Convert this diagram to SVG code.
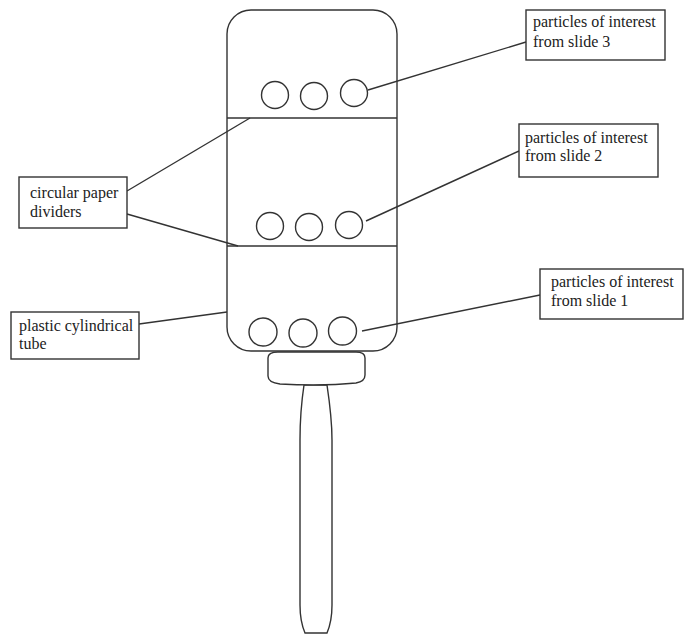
<svg xmlns="http://www.w3.org/2000/svg" width="684" height="634" viewBox="0 0 684 634">
<style>
.s{fill:#fff;stroke:#333;stroke-width:1.4}
.c{fill:none;stroke:#333;stroke-width:1.4}
text{font-family:"Liberation Serif",serif;font-size:16px;fill:#222}
</style>
<rect width="684" height="634" fill="#fff"/>
<g id="handle"><path class="s" d="M304 385C301 405 300 420 300 440L300 605C300 618 302 626 305 633L327 633C330 626 332 618 332 605L332 440C332 420 330 405 327 385Z"/></g>
<g id="cap"><path class="s" d="M278 352L356 352C362 352 365 354 365 358L365 375C365 380 362 382 356 383C335 385 300 385 280 384C272 383 268 381 268 376L268 358C268 354 271 352 278 352Z"/></g>
<g id="tube"><rect class="s" x="227" y="10" width="170" height="341" rx="24"/></g>
<g id="dividers"><line class="c" x1="227" y1="118" x2="397" y2="118"/><line class="c" x1="227" y1="246" x2="397" y2="246"/></g>
<g id="particles3"><circle class="s" cx="275" cy="95" r="13.5"/><circle class="s" cx="314" cy="96" r="13.5"/><circle class="s" cx="354" cy="93" r="13.5"/></g>
<g id="particles2"><circle class="s" cx="270" cy="226" r="13.5"/><circle class="s" cx="309" cy="227" r="13.5"/><circle class="s" cx="349" cy="225" r="13.5"/></g>
<g id="particles1"><circle class="s" cx="263" cy="332" r="14"/><circle class="s" cx="303" cy="333" r="14"/><circle class="s" cx="342.500" cy="331" r="14"/></g>
<g id="connectors">
<line class="c" x1="368" y1="90" x2="526" y2="42"/>
<line class="c" x1="366" y1="221" x2="519" y2="151"/>
<line class="c" x1="362" y1="331" x2="540" y2="295"/>
<line class="c" x1="127" y1="191" x2="250" y2="118"/>
<line class="c" x1="127" y1="214" x2="238" y2="246"/>
<line class="c" x1="139" y1="324" x2="227" y2="312"/>
</g>
<g id="label3"><rect class="s" x="526" y="10" width="139" height="50"/><text x="533" y="27">particles of interest</text><text x="533" y="47">from slide 3</text></g>
<g id="label2"><rect class="s" x="519" y="124" width="139" height="53"/><text x="525" y="143">particles of interest</text><text x="525" y="161">from slide 2</text></g>
<g id="label1"><rect class="s" x="540" y="269" width="143" height="50"/><text x="551" y="287">particles of interest</text><text x="551" y="306">from slide 1</text></g>
<g id="labelDividers"><rect class="s" x="19" y="177" width="108" height="51"/><text x="30" y="198">circular paper</text><text x="30" y="217">dividers</text></g>
<g id="labelTube"><rect class="s" x="11" y="312" width="128" height="47"/><text x="19" y="331">plastic cylindrical</text><text x="19" y="349">tube</text></g>
</svg>
